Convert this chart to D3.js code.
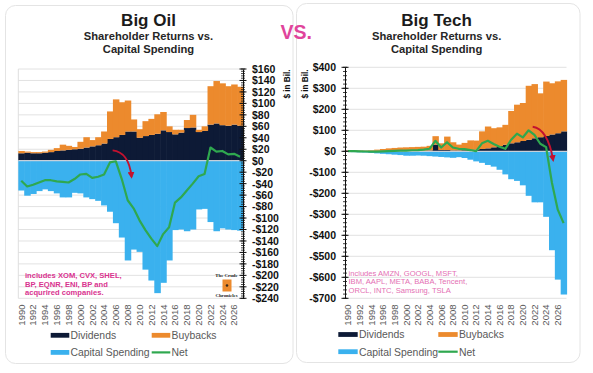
<!DOCTYPE html>
<html><head><meta charset="utf-8">
<script src="https://cdn.jsdelivr.net/npm/d3@7"></script>
<style>
html,body{margin:0;padding:0;background:#fff;}
svg{display:block;font-family:"Liberation Sans",Arial,sans-serif;}
</style></head><body>
<svg id="c" width="593" height="373"></svg>
<script>
// ---------- DATA ----------
const years = [1990,1991,1992,1993,1994,1995,1996,1997,1998,1999,2000,2001,2002,2003,2004,2005,2006,2007,2008,2009,2010,2011,2012,2013,2014,2015,2016,2017,2018,2019,2020,2021,2022,2023,2024,2025,2026,2027];
const yearTicks = [1990,1992,1994,1996,1998,2000,2002,2004,2006,2008,2010,2012,2014,2016,2018,2020,2022,2024,2026];

const oilDividends = [13,14,13,13,14,15,17,18,19,20, 21,23,25,27,30,38,41,45,51,51, 40,43,45,47,53,50,46,49,57,58, 50,52,63,65,62,61,63,61];
const oilBuybacks  = [4,2,2,2,2,4,5,10,7,4, 12,18,11,14,21,48,66,57,54,21, 15,26,28,34,32,10,8,5,14,22, 4,8,67,74,73,69,70,68];
const oilCapex     = [-52,-61,-58,-53,-50,-53,-57,-64,-64,-56, -57,-64,-67,-70,-78,-89,-109,-134,-174,-155, -159,-190,-209,-231,-213,-174,-121,-120,-123,-120, -85,-84,-107,-123,-118,-120,-121,-122];
const oilNet       = [-35,-45,-42,-38,-34,-34,-36,-37,-38,-32, -24,-23,-30,-28,-24,-3,-1,-32,-69,-83, -104,-121,-136,-149,-128,-116,-73,-64,-52,-40, -27,-23,23,16,17,11,12,7];
const oilTicks     = [160,140,120,100,80,60,40,20,0,-20,-40,-60,-80,-100,-120,-140,-160,-180,-200,-220,-240];

const techDividends = [3,3,2,2,1,1,1,1,2,2, 2,2,3,3,4,32,6,6,4,4, 5,6,8,11,14,19,25,31,38,43, 49,55,62,67,73,80,86,95];
const techBuybacks  = [2,2,2,2,4,7,10,13,14,16, 17,18,18,19,22,40,32,64,39,28, 35,46,43,84,104,91,89,95,154,179, 181,257,258,209,259,244,247,245];
const techCapex     = [-3,-4,-5,-6,-8,-10,-12,-14,-16,-18, -21,-21,-20,-21,-23,-25,-27,-29,-31,-28, -32,-40,-48,-55,-65,-73,-88,-110,-133,-141, -162,-212,-243,-243,-312,-471,-611,-682];
const techNet       = [1,1,0,-1,-2,-2,0,1,2,3, 3,5,6,8,12,50,18,43,18,12, 10,6,1,38,50,35,22,12,55,84, 66,100,78,36,20,-150,-278,-342];
const techTicks     = [400,300,200,100,0,-100,-200,-300,-400,-500,-600,-700];

const legendLabels = ["Dividends","Buybacks","Capital Spending","Net"];
const oilCompanies  = ["includes XOM, CVX, SHEL,","BP, EQNR, ENI, BP and","acqurired companies."];
const techCompanies = ["includes AMZN,  GOOGL,  MSFT,","IBM, AAPL, META, BABA, Tencent,","ORCL,  INTC, Samsung, TSLA"];
// arrow annotations in data units: [year, value]
const oilArrow  = [[2005.95,18],[2008.7,15],[2009.15,-28]];
const techArrow = [[2022.2,117],[2024.8,106],[2025.7,-41]];

// ---------- STYLE ----------
const NAVY="#0d1a36", ORANGE="#ec8a2d", BLUE="#3ab1ee", GREEN="#2fa84f", RED="#c3122f", PINK="#e0449b";
const svg = d3.select("#c");

svg.append("rect").attr("x",5.5).attr("y",5.5).attr("width",287.5).attr("height",358).attr("rx",10)
  .attr("fill","#fff").attr("stroke","#e4e4e4");
svg.append("rect").attr("x",296.5).attr("y",3.5).attr("width",283.5).attr("height",359).attr("rx",10)
  .attr("fill","#fff").attr("stroke","#e4e4e4");

const defs = svg.append("defs");
defs.append("marker").attr("id","ah").attr("viewBox","0 0 10 10").attr("refX",7).attr("refY",5)
  .attr("markerWidth",3.6).attr("markerHeight",3.6).attr("orient","auto")
  .append("path").attr("d","M0,0L10,5L0,10z").attr("fill",RED);

const fmt = d => d < 0 ? "-$" + (-d) : "$" + d;

function panel(o){
  const g = svg.append("g");
  const x = d3.scaleBand().domain(years).range([o.x0,o.x1]).padding(0);
  const y = d3.scaleLinear().domain(o.yDomain).range([o.yBottom,o.yTop]);
  const bw = x.bandwidth();
  const xAt = v => x(Math.floor(v)) + (v - Math.floor(v))*bw;
  const table = years.map((yr,i)=>({year:yr, div:o.div[i], bb:o.bb[i], capex:o.capex[i], net:o.net[i]}));
  const series = d3.stack().keys(["div","bb","capex"]).offset(d3.stackOffsetDiverging)(table);

  // titles
  g.append("text").attr("x",o.cx).attr("y",26).attr("text-anchor","middle").attr("font-size",17)
    .attr("font-weight","bold").attr("fill","#1b1b1b").text(o.title);
  g.append("text").attr("x",o.cx).attr("y",40.3).attr("text-anchor","middle").attr("font-size",11.2)
    .attr("font-weight","bold").attr("fill","#262626").text("Shareholder Returns vs.");
  g.append("text").attr("x",o.cx).attr("y",52.8).attr("text-anchor","middle").attr("font-size",11.2)
    .attr("font-weight","bold").attr("fill","#262626").text("Capital Spending");

  // grid
  g.append("g").selectAll("line").data(o.ticks).join("line")
    .attr("x1",o.x0).attr("x2",o.x1).attr("y1",d=>y(d)).attr("y2",d=>y(d))
    .attr("stroke","#e2e2e2").attr("stroke-width",1);
  if(o.leftBorder){
    g.append("line").attr("x1",o.x0).attr("x2",o.x0).attr("y1",o.yTop).attr("y2",o.yBottom)
      .attr("stroke","#dedede");
  }

  // bars
  const colors = {div:NAVY, bb:ORANGE, capex:BLUE};
  series.forEach(s=>{
    g.append("g").selectAll("rect").data(s).join("rect")
      .attr("x",d=>x(d.data.year)).attr("width",bw+0.6)
      .attr("y",d=>y(Math.max(d[0],d[1]))).attr("height",d=>Math.abs(y(d[0])-y(d[1])))
      .attr("fill",colors[s.key]);
  });
  // zero line
  g.append("line").attr("x1",o.x0).attr("x2",o.x1+0.6).attr("y1",y(0)).attr("y2",y(0))
    .attr("stroke","#c6d0da").attr("stroke-width",1.3);

  // net line
  g.append("path").datum(table)
    .attr("d",d3.line().x(d=>x(d.year)+bw/2).y(d=>y(d.net)))
    .attr("fill","none").attr("stroke",GREEN).attr("stroke-width",2.2).attr("stroke-linejoin","round");

  // arrow
  const a = o.arrow.map(p=>[xAt(p[0]), y(p[1])]);
  g.append("path").attr("d",`M${a[0][0]},${a[0][1]}Q${a[1][0]},${a[1][1]} ${a[2][0]},${a[2][1]}`)
    .attr("fill","none").attr("stroke",RED).attr("stroke-width",1.9).attr("marker-end","url(#ah)");

  // axis
  const axis = (o.side==="right"?d3.axisRight(y):d3.axisLeft(y)).tickValues(o.ticks).tickSize(0).tickPadding(9).tickFormat(fmt);
  const axG = g.append("g").attr("transform",`translate(${o.axisX},0)`).call(axis);
  axG.select(".domain").attr("stroke","#111").attr("stroke-width",1);
  axG.selectAll("text").attr("font-size",10.5).attr("font-weight","bold").attr("fill","#111")
    .attr("font-family","'Liberation Sans',Arial,sans-serif");
  const minor = d3.range(o.yDomain[0], o.yDomain[1]+0.001, o.minorStep);
  g.append("g").selectAll("line").data(minor).join("line")
    .attr("x1",o.axisX-2).attr("x2",o.axisX+2).attr("y1",d=>y(d)).attr("y2",d=>y(d))
    .attr("stroke","#111").attr("stroke-width",0.8);
  g.append("g").selectAll("line").data(o.ticks).join("line")
    .attr("x1",o.axisX-3.5).attr("x2",o.axisX+3.5).attr("y1",d=>y(d)).attr("y2",d=>y(d))
    .attr("stroke","#111").attr("stroke-width",1);

  // unit label
  g.append("text").attr("transform",`translate(${o.unitX},84) rotate(-90)`).attr("text-anchor","middle")
    .attr("dy","0.35em").attr("font-size",8.2).attr("font-weight","bold").attr("fill","#111").text("$ in Bil.");

  // year labels
  g.append("g").selectAll("text").data(yearTicks).join("text")
    .attr("transform",d=>`translate(${x(d)+bw/2},304.5) rotate(-90)`)
    .attr("text-anchor","end").attr("dy","0.35em").attr("font-size",9.5).attr("fill","#595959").text(d=>d);

  // company note
  g.append("g").selectAll("text").data(o.companies).join("text")
    .attr("x",o.noteX).attr("y",(d,i)=>o.noteY+i*o.noteStep)
    .attr("font-size",7.6).attr("font-weight",o.noteBold?"bold":"normal").attr("fill",o.noteColor).text(d=>d);

  // legend
  const L = o.legend;
  const items = [
    {t:legendLabels[0], c:NAVY,   x:L.c1, y:L.r1, line:false},
    {t:legendLabels[1], c:ORANGE, x:L.c2, y:L.r1, line:false},
    {t:legendLabels[2], c:BLUE,   x:L.c1, y:L.r2, line:false},
    {t:legendLabels[3], c:GREEN,  x:L.c2, y:L.r2, line:true}
  ];
  items.forEach(it=>{
    if(it.line){
      g.append("line").attr("x1",it.x).attr("x2",it.x+L.w).attr("y1",it.y).attr("y2",it.y)
        .attr("stroke",it.c).attr("stroke-width",2.2);
    } else {
      g.append("rect").attr("x",it.x).attr("y",it.y-2.4).attr("width",L.w).attr("height",4.8).attr("fill",it.c);
    }
    g.append("text").attr("x",it.x+L.w+1.2).attr("y",it.y+3.8).attr("font-size",10.4)
      .attr("fill","#595959").text(it.t);
  });
}

panel({title:"Big Oil", cx:148.5, x0:18.3, x1:243, yDomain:[-240,160], yBottom:298.3, yTop:69,
  div:oilDividends, bb:oilBuybacks, capex:oilCapex, net:oilNet, ticks:oilTicks, minorStep:4,
  side:"right", axisX:243, unitX:287.5, leftBorder:true, arrow:oilArrow,
  companies:oilCompanies, noteX:25, noteY:278.3, noteStep:8.4, noteBold:true, noteColor:"#d9338f",
  legend:{c1:50.7, c2:151.7, w:18.6, r1:335.3, r2:352.4}});

panel({title:"Big Tech", cx:436.6, x0:345, x1:566.5, yDomain:[-700,400], yBottom:298.3, yTop:67.3,
  div:techDividends, bb:techBuybacks, capex:techCapex, net:techNet, ticks:techTicks, minorStep:20,
  side:"left", axisX:345, unitX:305, leftBorder:false, arrow:techArrow,
  companies:techCompanies, noteX:348.5, noteY:275.7, noteStep:8.7, noteBold:false, noteColor:"#e46fb3",
  legend:{c1:338.3, c2:438.3, w:19.4, r1:334.5, r2:351.7}});

// VS.
svg.append("text").attr("x",280.5).attr("y",39.3).attr("font-size",19.5).attr("font-weight","bold")
  .attr("fill",PINK).text("VS.");

// small logo
const logo = svg.append("g").attr("font-family","'Liberation Serif',serif").attr("font-weight","bold").attr("fill","#222");
logo.append("text").attr("x",226.5).attr("y",277).attr("text-anchor","middle").attr("font-size",4.8).text("The Crude");
logo.append("rect").attr("x",222.5).attr("y",279.5).attr("width",9).attr("height",12).attr("fill",ORANGE);
logo.append("circle").attr("cx",227).attr("cy",285.5).attr("r",1.3).attr("fill","#3a2a1a");
logo.append("text").attr("x",226.5).attr("y",296.5).attr("text-anchor","middle").attr("font-size",4.8).text("Chronicles");
</script>
</body></html>
